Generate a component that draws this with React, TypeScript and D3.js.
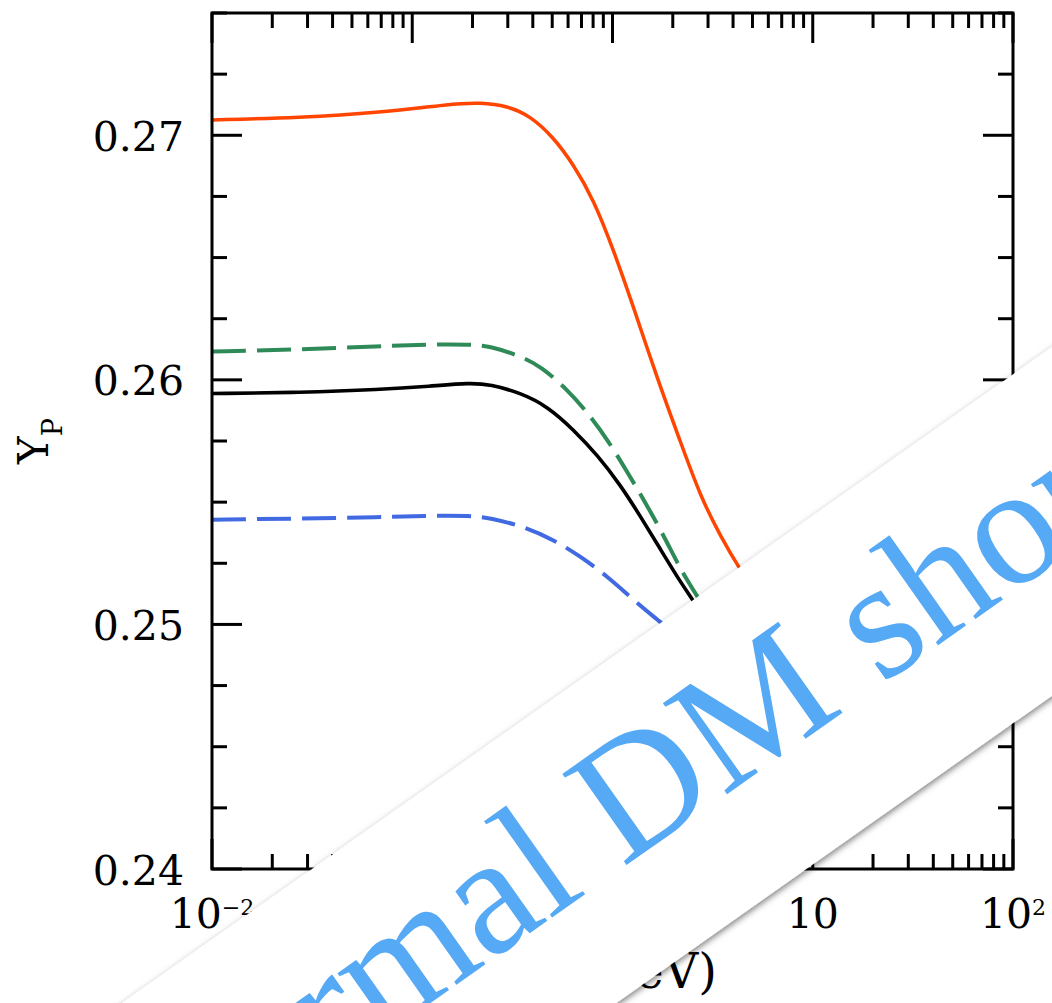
import React from 'react';
import * as d3 from 'd3';

// ---- data (mass in MeV, primordial helium fraction Y_P) ----
const orangeMass = [0.01, 0.0275, 0.0692, 0.155, 0.219, 0.299, 0.389, 0.507, 0.638, 0.804, 1.01, 1.27, 1.68, 2.19, 2.75, 3.47, 4.27, 6.31, 10, 20, 50, 100];
const orangeYp = [0.27063, 0.27072, 0.27093, 0.27128, 0.27134, 0.2712, 0.27079, 0.26992, 0.26881, 0.26738, 0.26533, 0.263, 0.26001, 0.25744, 0.25523, 0.25359, 0.25232, 0.2502, 0.2482, 0.2472, 0.2469, 0.2469];

const blackMass = [0.01, 0.0275, 0.0692, 0.123, 0.195, 0.245, 0.347, 0.473, 0.638, 0.841, 1.1, 1.38, 1.74, 2.19, 2.6, 3.98, 6.31, 10, 31.6, 100];
const blackYp = [0.25944, 0.25948, 0.2596, 0.25974, 0.25988, 0.25981, 0.25947, 0.25892, 0.25797, 0.25692, 0.25568, 0.25441, 0.25306, 0.25171, 0.25085, 0.2484, 0.2475, 0.2471, 0.2469, 0.2469];

const greenMass = [0.01, 0.0275, 0.0692, 0.123, 0.195, 0.245, 0.347, 0.437, 0.596, 0.75, 0.944, 1.19, 1.5, 1.88, 2.19, 2.66, 3.98, 6.31, 10, 31.6, 100];
const greenYp = [0.26116, 0.26124, 0.26138, 0.26145, 0.26145, 0.26138, 0.26097, 0.26056, 0.2596, 0.25866, 0.25756, 0.25621, 0.25482, 0.25334, 0.25224, 0.25113, 0.2488, 0.2477, 0.2472, 0.247, 0.247];

const blueMass = [0.01, 0.0275, 0.0692, 0.123, 0.195, 0.245, 0.359, 0.507, 0.692, 0.944, 1.27, 1.6, 2.51, 3.98, 6.31, 10, 31.6, 100];
const blueYp = [0.25428, 0.25433, 0.25438, 0.25445, 0.25445, 0.25435, 0.25401, 0.25347, 0.25278, 0.25196, 0.25101, 0.25033, 0.249, 0.248, 0.2474, 0.2471, 0.2469, 0.2469];

const xTickValues = [0.01, 0.1, 1, 10, 100];
const xTickBases = ['10', '10', '1', '10', '10'];
const xTickExps = ['\u22122', '\u22121', '', '', '2'];
const yTickValues = [0.24, 0.25, 0.26, 0.27];
const yTickLabels = ['0.24', '0.25', '0.26', '0.27'];

const bannerText = 'Thermal DM should be heavy';

const W = 1052;
const H = 1003;
const L = 212, R = 1013, T = 13, B = 869;
const font = "'DejaVu Serif', serif";
const bannerFont = "'Liberation Serif', 'Times New Roman', serif";

export default function App() {
  const x = d3.scaleLog().domain([0.01, 100]).range([L, R]);
  const y = d3.scaleLinear().domain([0.24, 0.275]).range([B, T]);

  const line = d3
    .line<[number, number]>()
    .x((d) => x(d[0]))
    .y((d) => y(d[1]))
    .curve(d3.curveBasis);

  const zip = (a: number[], b: number[]) => a.map((v, i) => [v, b[i]] as [number, number]);

  const allX = x.ticks();
  const majorX = (v: number) => Math.abs(Math.log10(v) - Math.round(Math.log10(v))) < 1e-9;
  const yMinor = d3.range(0, 15).map((i) => 0.24 + i * 0.0025);
  const majorY = (v: number) => Math.abs(v * 100 - Math.round(v * 100)) < 1e-6;

  const series = [
    { d: zip(blueMass, blueYp), color: '#4169e1', dash: '34 11', w: 4 },
    { d: zip(greenMass, greenYp), color: '#2e8b57', dash: '34 11', w: 4 },
    { d: zip(blackMass, blackYp), color: '#000000', dash: undefined, w: 3.6 },
    { d: zip(orangeMass, orangeYp), color: '#ff4500', dash: undefined, w: 3.5 },
  ];

  const angle = -35.2;

  return (
    <svg
      width={W}
      height={H}
      style={{ position: 'absolute', left: 0, top: 0, display: 'block', background: '#fff' }}
    >
      <defs>
        <filter id="bshadow" x="-10%" y="-10%" width="120%" height="120%">
          <feDropShadow dx="0" dy="3" stdDeviation="3" floodColor="#000" floodOpacity="0.5" />
        </filter>
        <clipPath id="plotclip">
          <rect x={L} y={T} width={R - L} height={B - T} />
        </clipPath>
      </defs>
      <rect x={0} y={0} width={W} height={H} fill="#fff" />

      {/* curves */}
      <g clipPath="url(#plotclip)">
        {series.map((s, i) => (
          <path
            key={i}
            d={line(s.d) || ''}
            fill="none"
            stroke={s.color}
            strokeWidth={s.w}
            strokeDasharray={s.dash}
          />
        ))}
      </g>

      {/* ticks */}
      <g stroke="#000" strokeWidth={3}>
        {allX.map((v, i) => {
          const len = majorX(v) ? 30 : 15;
          const px = x(v);
          return (
            <g key={'xt' + i}>
              <line x1={px} x2={px} y1={B} y2={B - len} />
              <line x1={px} x2={px} y1={T} y2={T + len} />
            </g>
          );
        })}
        {yMinor.map((v, i) => {
          const len = majorY(v) ? 30 : 15;
          const py = y(v);
          return (
            <g key={'yt' + i}>
              <line x1={L} x2={L + len} y1={py} y2={py} />
              <line x1={R} x2={R - len} y1={py} y2={py} />
            </g>
          );
        })}
      </g>
      <rect x={L} y={T} width={R - L} height={B - T} fill="none" stroke="#000" strokeWidth={3} />

      {/* tick labels */}
      <g fontFamily={font} fontSize={41} fill="#000">
        {yTickValues.map((v, i) => (
          <text key={'yl' + i} x={184} y={y(v) + 15.5} textAnchor="end">
            {yTickLabels[i]}
          </text>
        ))}
        {xTickValues.map((v, i) => (
          <text key={'xl' + i} x={x(v)} y={928} textAnchor="middle">
            {xTickBases[i]}
            {xTickExps[i] ? (
              <tspan fontSize={22} dy={-13}>
                {xTickExps[i]}
              </tspan>
            ) : null}
          </text>
        ))}
      </g>

      {/* axis titles */}
      <text
        transform={`translate(48, ${(T + B) / 2}) rotate(-90)`}
        textAnchor="middle"
        fontFamily={font}
        fontSize={42}
        fill="#000"
      >
        Y
        <tspan fontSize={27} dy={14}>
          P
        </tspan>
      </text>
      <text x={717} y={988} textAnchor="end" fontFamily={font} fontSize={48} fill="#000">
        m
        <tspan fontSize={30} dy={10}>
          χ
        </tspan>
        <tspan dy={-10}> (MeV)</tspan>
      </text>

      {/* diagonal banner */}
      <g filter="url(#bshadow)">
        <g transform={`translate(353, 840) rotate(${angle})`}>
          <rect x={-600} y={0} width={1900} height={285} fill="#fff" />
        </g>
      </g>
      <g transform={`translate(353, 840) rotate(${angle})`}>
        <text x={-414} y={178} fontFamily={bannerFont} fontSize={170} fill="#56a9f5">
          {bannerText}
        </text>
      </g>
    </svg>
  );
}
